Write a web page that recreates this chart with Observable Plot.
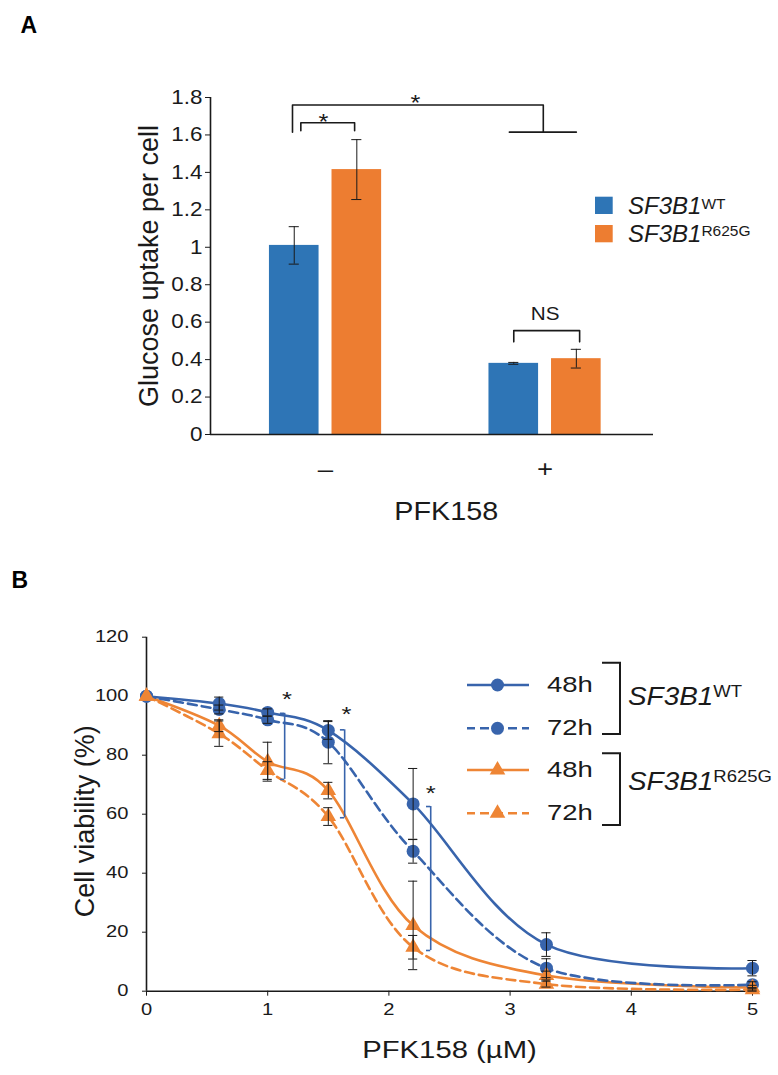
<!DOCTYPE html>
<html>
<head>
<meta charset="utf-8">
<script src="https://cdn.jsdelivr.net/npm/d3@7"></script>
<script src="https://cdn.jsdelivr.net/npm/@observablehq/plot@0.6"></script>
<style>
  body { margin: 0; background: #fff; font-family: "Liberation Sans", Arial, sans-serif; }
  #wrap { position: relative; width: 778px; height: 1075px; overflow: hidden; }
  #wrap > svg, #wrap > figure { position: absolute; left: 0; margin: 0; }
</style>
</head>
<body>
<div id="wrap"></div>
<script>
// ---------------- Panel A data ----------------
const pfkGroups = ["–", "+"];
const genotypes = ["SF3B1WT", "SF3B1R625G"];
const uptakeWT = [1.01, 0.38];
const uptakeWTErr = [0.10, 0.005];
const uptakeMut = [1.415, 0.405];
const uptakeMutErr = [0.16, 0.05];
const yTicksA = [0, 0.2, 0.4, 0.6, 0.8, 1, 1.2, 1.4, 1.6, 1.8];
const yTickLabelsA = ["0", "0.2", "0.4", "0.6", "0.8", "1", "1.2", "1.4", "1.6", "1.8"];
const labelYA = "Glucose uptake per cell";
const labelXA = "PFK158";

// ---------------- Panel B data ----------------
const dose = [0, 0.6, 1, 1.5, 2.2, 3.3, 5];
const wt48 = [100, 97.5, 94.5, 88.4, 63.5, 15.8, 7.8];
const wt48Err = [0, 2.2, 1.2, 3.0, 12.0, 4.0, 2.6];
const wt72 = [100, 95.5, 92.0, 84.4, 47.4, 7.8, 2.2];
const wt72Err = [0, 1.5, 1.2, 7.3, 4.0, 3.2, 1.0];
const mut48 = [100, 90.0, 77.8, 68.0, 22.3, 5.3, 1.2];
const mut48Err = [0, 2.0, 6.6, 2.8, 15.0, 1.5, 0.8];
const mut72 = [100, 87.3, 74.8, 59.2, 14.9, 2.4, 0.5];
const mut72Err = [0, 4.3, 3.0, 3.0, 4.0, 1.0, 0.5];
const xTicksB = [0, 1, 2, 3, 4, 5];
const yTicksB = [0, 20, 40, 60, 80, 100, 120];
const labelXB = "PFK158 (µM)";
const labelYB = "Cell viability (%)";
// significance brackets (x position, top and bottom of bracket) and stars
const sigX = [1.14, 1.635, 2.345];
const sigTop = [94.2, 88.6, 62.6];
const sigBottom = [71.8, 58.8, 13.8];
const starX = [1.16, 1.65, 2.345];
const starY = [98.8, 93.8, 67.0];

// ---------------- styling ----------------
const FONT = "'Liberation Sans', Arial, Helvetica, sans-serif";
const colA = ["#2E75B6", "#ED7D31"];
const blueB = "#3864AC", orangeB = "#EE8535";
const INK = "#1a1a1a";

// widen upright texts about their anchor (the original figure is slightly stretched horizontally)
function stretchText(svg, s) {
  svg.querySelectorAll("text").forEach(t => {
    const tr = t.getAttribute("transform") || "";
    if (tr.includes("rotate")) return;
    const b = t.getBBox();
    const anchor = getComputedStyle(t).textAnchor;
    const ax = anchor === "end" ? b.x + b.width : anchor === "middle" ? b.x + b.width / 2 : b.x;
    t.setAttribute("transform", `${tr} translate(${ax},0) scale(${s},1) translate(${-ax},0)`);
  });
}

const wrap = document.getElementById("wrap");

// ---------------- Panel A ----------------
const off = 0.1425, hw = 0.113, capA = 0.023;
const barsA = [];
pfkGroups.forEach((g, i) => {
  barsA.push({group: g, genotype: genotypes[0], pos: i - off, v: uptakeWT[i], e: uptakeWTErr[i]});
  barsA.push({group: g, genotype: genotypes[1], pos: i + off, v: uptakeMut[i], e: uptakeMutErr[i]});
});
const posOf = (gi, ki) => barsA[gi * 2 + ki].pos;
const xMinA = -0.524, xMaxA = 1.494;

const bracketsA = [
  {id: "big", pts: [[posOf(0,0) - 0.008, 1.615], [posOf(0,0) - 0.008, 1.76], [0.992, 1.76], [0.992, 1.615]]},
  {id: "big2", pts: [[posOf(1,0) - 0.02, 1.615], [posOf(1,1), 1.615]]},
  {id: "small", pts: [[posOf(0,0) + 0.03, 1.623], [posOf(0,0) + 0.03, 1.665], [posOf(0,1) - 0.01, 1.665], [posOf(0,1) - 0.01, 1.623]]},
  {id: "ns", pts: [[posOf(1,0), 0.495], [posOf(1,0), 0.555], [posOf(1,1) + 0.015, 0.555], [posOf(1,1) + 0.015, 0.495]]}
];
const bracketPtsA = bracketsA.flatMap(b => b.pts.map(([x, y]) => ({id: b.id, x, y})));
const notesA = [
  {x: 0.41, y: 1.772, text: "*", size: 22},
  {x: -0.009, y: 1.668, text: "*", size: 22},
  {x: 1.0, y: 0.64, text: "NS", size: 18}
];

const plotA = Plot.plot({
  width: 778, height: 560,
  marginLeft: 210, marginRight: 125, marginTop: 97, marginBottom: 126,
  style: {fontFamily: FONT, background: "transparent", color: INK},
  x: {domain: [xMinA, xMaxA], axis: null},
  y: {domain: [0, 1.8], axis: null},
  color: {domain: genotypes, range: colA},
  marks: [
    Plot.rectY(barsA, {x1: d => d.pos - hw, x2: d => d.pos + hw, y: "v", fill: "genotype"}),
    Plot.ruleX(barsA, {x: "pos", y1: d => d.v - d.e, y2: d => d.v + d.e, stroke: INK, strokeWidth: 1}),
    Plot.ruleY(barsA, {x1: d => d.pos - capA, x2: d => d.pos + capA, y: d => d.v + d.e, stroke: INK, strokeWidth: 1}),
    Plot.ruleY(barsA, {x1: d => d.pos - capA, x2: d => d.pos + capA, y: d => d.v - d.e, stroke: INK, strokeWidth: 1}),
    Plot.ruleY([0], {stroke: INK, strokeWidth: 1.6}),
    Plot.ruleX([xMinA], {y1: 0, y2: 1.8, stroke: INK, strokeWidth: 1.6}),
    Plot.axisY({ticks: yTicksA, tickFormat: d => yTickLabelsA[yTicksA.indexOf(d)], tickSize: 5, tickPadding: 3, fontSize: 19.5, label: null, stroke: INK}),
    Plot.axisX({ticks: [0, 1], tickFormat: i => pfkGroups[i], tickSize: 0, tickPadding: 25, fontSize: 24, label: null}),
    Plot.line(bracketPtsA, {x: "x", y: "y", z: "id", stroke: INK, strokeWidth: 1.6, curve: "linear"}),
    Plot.text(notesA, {x: "x", y: "y", text: "text", fontSize: d => d.size, fill: INK}),
    Plot.text([labelXA], {x: 0.55, frameAnchor: "bottom", lineAnchor: "middle", textAnchor: "middle", dy: 77, fontSize: 25, fill: INK}),
    Plot.text([labelYA], {frameAnchor: "left", textAnchor: "middle", lineAnchor: "middle", rotate: -90, dx: -61, dy: 0, fontSize: 27, fill: INK})
  ]
});
plotA.style.top = "0px";
wrap.appendChild(plotA);
stretchText(plotA, 1.15);

// ---------------- Panel B ----------------
const seriesB = [
  {genotype: genotypes[0], time: "48h", values: wt48, err: wt48Err},
  {genotype: genotypes[0], time: "72h", values: wt72, err: wt72Err},
  {genotype: genotypes[1], time: "48h", values: mut48, err: mut48Err},
  {genotype: genotypes[1], time: "72h", values: mut72, err: mut72Err}
];
const rowsB = seriesB.flatMap(s => dose.map((x, i) => ({
  genotype: s.genotype, time: s.time, key: s.genotype + s.time, x, v: s.values[i], e: s.err[i]
})));
const errB = rowsB.filter(d => d.e > 0);
const capB = 0.038, tickB = 0.035;
const sigB = sigX.map((x, i) => ({x, top: sigTop[i], bottom: sigBottom[i]}));
const starsB = starX.map((x, i) => ({x, y: starY[i]}));

const plotB = Plot.plot({
  width: 778, height: 515,
  marginLeft: 146, marginRight: 26, marginTop: 76.7, marginBottom: 84.3,
  style: {fontFamily: FONT, background: "transparent", color: INK},
  x: {domain: [0, 5], axis: null},
  y: {domain: [0, 120], axis: null},
  color: {domain: genotypes, range: [blueB, orangeB]},
  marks: [
    Plot.ruleY([0], {stroke: INK, strokeWidth: 1.6}),
    Plot.ruleX([0], {y1: 0, y2: 120, stroke: INK, strokeWidth: 1.6}),
    Plot.axisY({ticks: yTicksB, tickFormat: d => String(d), tickSize: 4, tickPadding: 14, fontSize: 16.5, label: null, stroke: INK}),
    Plot.axisX({ticks: xTicksB, tickFormat: d => String(d), tickSize: 5, tickPadding: 7, fontSize: 16.5, label: null, stroke: INK}),
    Plot.line(rowsB.filter(d => d.time === "48h"), {x: "x", y: "v", z: "key", stroke: "genotype", strokeWidth: 2.6, curve: "cardinal"}),
    Plot.line(rowsB.filter(d => d.time === "72h"), {x: "x", y: "v", z: "key", stroke: "genotype", strokeWidth: 2.6, curve: "cardinal", strokeDasharray: "9,5"}),
    Plot.dot(rowsB.filter(d => d.genotype === genotypes[0]), {x: "x", y: "v", r: 6.5, fill: "genotype", symbol: "circle"}),
    Plot.dot(rowsB.filter(d => d.genotype === genotypes[1]), {x: "x", y: "v", r: 5.8, fill: "genotype", symbol: "triangle"}),
    Plot.ruleX(errB, {x: "x", y1: d => d.v - d.e, y2: d => d.v + d.e, stroke: INK, strokeWidth: 1}),
    Plot.ruleY(errB, {x1: d => d.x - capB, x2: d => d.x + capB, y: d => d.v + d.e, stroke: INK, strokeWidth: 1}),
    Plot.ruleY(errB, {x1: d => d.x - capB, x2: d => d.x + capB, y: d => d.v - d.e, stroke: INK, strokeWidth: 1}),
    Plot.ruleX(sigB, {x: "x", y1: "bottom", y2: "top", stroke: blueB, strokeWidth: 1.6}),
    Plot.ruleY(sigB, {x1: d => d.x - tickB, x2: "x", y: "top", stroke: blueB, strokeWidth: 1.6}),
    Plot.ruleY(sigB, {x1: d => d.x - tickB, x2: "x", y: "bottom", stroke: blueB, strokeWidth: 1.6}),
    Plot.text(starsB, {x: "x", y: "y", text: () => "*", fontSize: 21, fill: INK}),
    Plot.text([labelXB], {frameAnchor: "bottom", lineAnchor: "middle", textAnchor: "middle", dy: 59, fontSize: 24, fill: INK}),
    Plot.text([labelYB], {frameAnchor: "left", textAnchor: "middle", lineAnchor: "middle", rotate: -90, dx: -61, dy: 7, fontSize: 27, fill: INK})
  ]
});
plotB.style.top = "560px";
wrap.appendChild(plotB);
stretchText(plotB, 1.22);

// ---------------- Overlay: panel letters and legends ----------------
const ov = d3.select(wrap).append("svg")
  .attr("width", 778).attr("height", 1075)
  .style("top", "0px").style("pointer-events", "none")
  .style("font-family", FONT);

ov.append("text").attr("x", 20.5).attr("y", 33.3).attr("font-size", 23).attr("font-weight", "bold").attr("fill", "#000").text("A");
ov.append("text").attr("x", 11.5).attr("y", 588.3).attr("font-size", 23).attr("font-weight", "bold").attr("fill", "#000").text("B");

// Legend A
const supA = ["WT", "R625G"];
genotypes.forEach((g, i) => {
  ov.append("rect").attr("x", 595).attr("y", 196.7 + 28.3 * i).attr("width", 17.7).attr("height", 17.3).attr("fill", colA[i]);
  const t = ov.append("text").attr("x", 628).attr("y", 214 + 27.7 * i).attr("fill", INK);
  t.append("tspan").attr("font-size", 24).attr("font-style", "italic").text("SF3B1");
  t.append("tspan").attr("font-size", 15.5).attr("dy", -5.5).text(supA[i]);
});

// Legend B
const legB = [
  {y: 685, color: blueB, dash: null, sym: "circle", label: "48h"},
  {y: 728.3, color: blueB, dash: "9,5", sym: "circle", label: "72h"},
  {y: 770, color: orangeB, dash: null, sym: "triangle", label: "48h"},
  {y: 813.3, color: orangeB, dash: "9,5", sym: "triangle", label: "72h"}
];
legB.forEach(r => {
  const l = ov.append("line").attr("x1", 467).attr("x2", 529).attr("y1", r.y).attr("y2", r.y)
    .attr("stroke", r.color).attr("stroke-width", 2.6);
  if (r.dash) l.attr("stroke-dasharray", r.dash).attr("stroke-dashoffset", 1);
  const sym = r.sym === "circle" ? d3.symbolCircle : d3.symbolTriangle;
  const size = r.sym === "circle" ? Math.PI * 6.5 * 6.5 : Math.PI * 5.8 * 5.8;
  ov.append("path").attr("d", d3.symbol(sym, size)()).attr("transform", `translate(497.5,${r.y})`).attr("fill", r.color);
  ov.append("text").attr("transform", `translate(547,${r.y + 6.5}) scale(1.25,1)`).attr("font-size", 22).attr("fill", INK).text(r.label);
});
const brB = [{y1: 662.7, y2: 734, sup: "WT", base: 705}, {y1: 753.3, y2: 825, sup: "R625G", base: 790}];
brB.forEach(b => {
  ov.append("path").attr("d", `M602,${b.y1}H620V${b.y2}H602`).attr("fill", "none").attr("stroke", INK).attr("stroke-width", 2);
  const t = ov.append("text").attr("transform", `translate(628,${b.base}) scale(1.09,1)`).attr("fill", INK);
  t.append("tspan").attr("font-size", 25.6).attr("font-style", "italic").text("SF3B1");
  t.append("tspan").attr("font-size", 17).attr("dy", -8.5).text(b.sup);
});
</script>
</body>
</html>
